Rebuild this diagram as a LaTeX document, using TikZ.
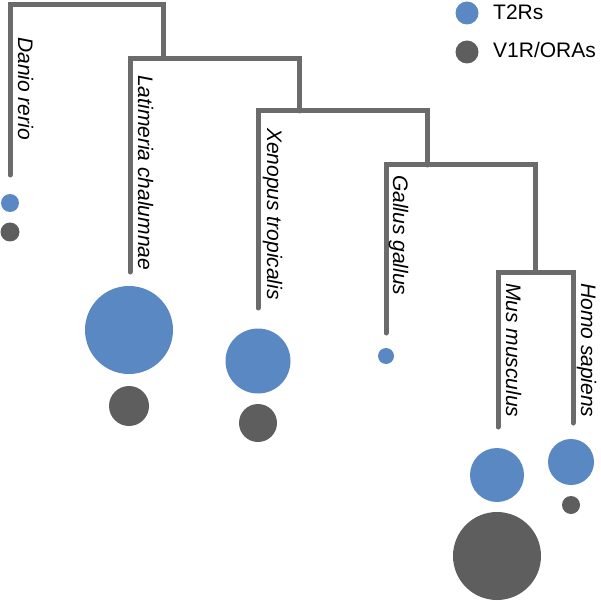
\documentclass[tikz,border=0pt]{standalone}
\usepackage{fontspec}
\setmainfont{Liberation Sans}
\usepackage{tikz}
\definecolor{treegray}{HTML}{6B6B6B}
\definecolor{t2rblue}{HTML}{5A88C3}
\definecolor{vrgray}{HTML}{5E5E5E}
\tikzset{
    phylo/.style={x=1pt, y=-1pt, font=\fontsize{21}{25}\selectfont},
    branch/.style={draw=treegray, line width=5pt, line cap=round, line join=miter},
    species/.style={rotate=-90, anchor=base west, inner sep=0pt, font=\fontsize{21}{25}\selectfont\itshape},
    % receptor counts: the diameter is the argument
    t2r/.style={circle, fill=t2rblue, inner sep=0pt, minimum size=#1pt},
    vr/.style={circle, fill=vrgray, inner sep=0pt, minimum size=#1pt},
    legend/.style={anchor=base west, inner sep=0pt},
}
\begin{document}
\begin{tikzpicture}[phylo]
        \useasboundingbox (0,0) rectangle (600,601);

        % tips and inner nodes of the tree
        \coordinate (dan) at (10,175);
        \coordinate (lat) at (130,272);
        \coordinate (xen) at (258,308);
        \coordinate (gal) at (386,333);
        \coordinate (mus) at (498,427);
        \coordinate (hom) at (573,423);
        \coordinate (c1) at (86,5);
        \coordinate (c2) at (163.5,58.5);
        \coordinate (c3) at (299,111);
        \coordinate (c4) at (427,165);
        \coordinate (c5) at (535,272);

        \draw[branch] (dan) |- (c1) -| (c2);
        \draw[branch] (lat) |- (c2) -| (c3);
        \draw[branch] (xen) |- (c3) -| (c4);
        \draw[branch] (gal) |- (c4) -| (c5);
        \draw[branch] (mus) |- (c5) -| (hom);

        \node[species] (ldan) at (18,37)   {Danio rerio};
        \node[species] (llat) at (138,75)  {Latimeria chalumnae};
        \node[species] (lxen) at (267,128) {Xenopus tropicalis};
        \node[species] (lgal) at (393,175) {Gallus gallus};
        \node[species] (lmus) at (506,283) {Mus musculus};
        \node[species] (lhom) at (581,283) {Homo sapiens};

        \node[t2r=18] (bdan) at (10,203)  {};
        \node[vr=19]  (gdan) at (10,232)  {};
        \node[t2r=88] (blat) at (129,330) {};
        \node[vr=40]  (glat) at (129,406) {};
        \node[t2r=65] (bxen) at (258,361) {};
        \node[vr=38]  (gxen) at (258,423) {};
        \node[t2r=16] (bgal) at (386,356) {};
        \node[t2r=54] (bmus) at (497,475) {};
        \node[vr=88]  (gmus) at (497,556) {};
        \node[t2r=46] (bhom) at (571,462) {};
        \node[vr=18]  (ghom) at (571,505) {};

        \node[t2r=23] (kblue) at (467,13) {};
        \node[vr=23]  (kgray) at (467,52) {};
        \node[legend] (tblue) at (493,20) {T2Rs};
        \node[legend] (tgray) at (493,58) {V1R/ORAs};
    \end{tikzpicture}
\end{document}
